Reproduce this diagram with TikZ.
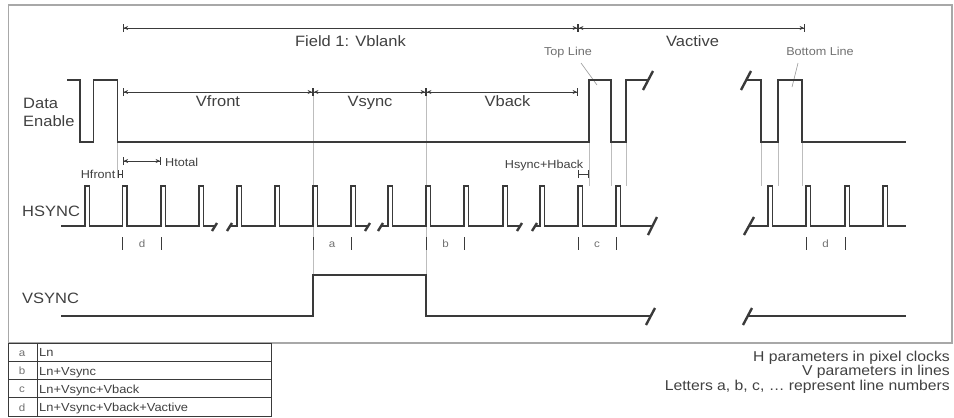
\documentclass[tikz,border=0pt]{standalone}
\usepackage{fontspec}
\setmainfont[FakeStretch=1.1]{Liberation Sans}
\usetikzlibrary{arrows.meta}
\definecolor{sigc}{HTML}{3A3A3A}
\definecolor{guidec}{HTML}{BDBDBD}
\definecolor{framec}{HTML}{A8A8A8}
\definecolor{textc}{HTML}{404040}
\definecolor{softc}{HTML}{707070}
\begin{document}
\begin{tikzpicture}[x=1pt,y=-1pt,
  sig/.style={line width=1.3pt,draw=sigc,line join=miter},
  guide/.style={line width=0.5pt,draw=guidec},
  leader/.style={line width=0.6pt,draw=guidec!80!black},
  brk/.style={line width=2.4pt,draw=sigc},
  tickmark/.style={line width=1pt,draw=sigc},
  dimline/.style={line width=0.9pt,draw=sigc,
     {Bar[width=8pt,line width=0.9pt]Stealth[length=4.5pt,width=4pt]}-{Stealth[length=4.5pt,width=4pt]Bar[width=8pt,line width=0.9pt]}},
  dimbar/.style={line width=0.9pt,draw=sigc,{Bar[width=8pt,line width=0.9pt]}-{Bar[width=8pt,line width=0.9pt]}},
  big/.style={font=\fontsize{15}{15}\selectfont,text=textc,inner sep=0pt,anchor=base},
  note/.style={font=\fontsize{14.3}{14.3}\selectfont,text=textc,inner sep=0pt,anchor=base east},
  small/.style={font=\fontsize{11.5}{11.5}\selectfont,text=textc,inner sep=0pt,anchor=base},
  faint/.style={font=\fontsize{11.5}{11.5}\selectfont,text=softc,inner sep=0pt,anchor=base},
  letter/.style={font=\fontsize{10.5}{10.5}\selectfont,text=softc,inner sep=0pt,anchor=base},
  cell/.style={font=\fontsize{11.7}{11.7}\selectfont,text=textc,inner sep=0pt,anchor=base west},
  tbl/.style={line width=0.9pt,draw=sigc},
]
\useasboundingbox (0,0) rectangle (954,418);
% frame
\draw[draw=framec,line width=1.8pt] (8.5,5) rectangle (952,343);

% guide lines
\draw[guide] (117.5,142) -- (117.5,178);
\draw[guide] (313,92) -- (313,275);
\draw[guide] (426,92) -- (426,275);
\foreach \gx in {589,611,626,761,778,802}{\draw[guide] (\gx,142) -- (\gx,186);}

% dimension lines
\coordinate (f0) at (122.7,28); \coordinate (f1) at (578,28); \coordinate (f2) at (805,28);
\coordinate (v0) at (122.7,92); \coordinate (v1) at (313,92); \coordinate (v2) at (426,92); \coordinate (v3) at (578,92);
\draw[dimline] (f0) -- (f1);
\draw[dimline] (f1) -- (f2);
\draw[dimline] (v0) -- (v1);
\draw[dimline] (v1) -- (v2);
\draw[dimline] (v2) -- (v3);
\coordinate (ht0) at (122.7,161); \coordinate (ht1) at (161,161);
\draw[dimline] (ht0) -- (ht1);
\coordinate (hf0) at (117.5,174); \coordinate (hf1) at (122.7,174);
\draw[dimbar] (hf0) -- (hf1);
\coordinate (hs0) at (578,174); \coordinate (hs1) at (589,174);
\draw[dimbar] (hs0) -- (hs1);

% labels
\node[big] (field) at (350.5,46.5) {Field 1: Vblank};
\node[big] (vactive) at (692.5,46) {Vactive};
\node[big] (vfront) at (218,106.5) {Vfront};
\node[big] (vsyncdim) at (370,106.5) {Vsync};
\node[big] (vback) at (507.5,106.5) {Vback};
\node[big,anchor=base west] (data) at (23,108) {Data};
\node[big,anchor=base west] (enable) at (23,126.5) {Enable};
\node[big,anchor=base west] (hsynclbl) at (22,216) {HSYNC};
\node[big,anchor=base west] (vsynclbl) at (22,303) {VSYNC};
\node[faint] (topline) at (568,55) {Top Line};
\node[faint] (bottomline) at (820,55) {Bottom Line};
\node[small,anchor=base west] (htotal) at (165,166.5) {Htotal};
\node[small,anchor=base east] (hfront) at (115.5,178) {Hfront};
\node[small,anchor=base east] (hsb) at (583.5,168.5) {Hsync+Hback};

% leaders
\coordinate (tl0) at (581,63); \coordinate (tl1) at (597,85);
\draw[leader] (tl0) -- (tl1);
\coordinate (bl0) at (798,63); \coordinate (bl1) at (792,87);
\draw[leader] (bl0) -- (bl1);

% Data Enable
\draw[sig] (67,80) -- (80,80) -- (80,142) -- (93.5,142) -- (93.5,80) -- (117.5,80) -- (117.5,142)
  -- (589,142) -- (589,80) -- (611,80) -- (611,142) -- (626,142) -- (626,80) -- (648,80);
\draw[sig] (746,80) -- (761,80) -- (761,142) -- (778,142) -- (778,80) -- (802,80) -- (802,142) -- (906,142);
\draw[brk] (643,90) -- (653,71);
\draw[brk] (741,90) -- (751,71);

% HSYNC
\draw[sig] (61,226) foreach \p in {85,122.5,161,199}{ -- (\p,226) -- (\p,186) -- ({\p+4.5},186) -- ({\p+4.5},226)} -- (215,226);
\draw[sig] (230,226) foreach \p in {237,275,313,351}{ -- (\p,226) -- (\p,186) -- ({\p+4.5},186) -- ({\p+4.5},226)} -- (368,226);
\draw[sig] (381,226) foreach \p in {388,426,464,503}{ -- (\p,226) -- (\p,186) -- ({\p+4.5},186) -- ({\p+4.5},226)} -- (520,226);
\draw[sig] (535,226) foreach \p in {540,578,616}{ -- (\p,226) -- (\p,186) -- ({\p+4.5},186) -- ({\p+4.5},226)} -- (652.5,226);
\draw[sig] (749,226) foreach \p in {768,806,845,883}{ -- (\p,226) -- (\p,186) -- ({\p+4.5},186) -- ({\p+4.5},226)} -- (906,226);
\foreach \sx in {212,227,365,378,517,532}{\draw[brk] (\sx,231) -- ({\sx+5},223);}
\draw[brk] (648,235) -- (657,217);
\draw[brk] (744,235) -- (754,217);

% line-number ticks
\foreach \tx in {122.5,161,313,351,426,464,578,616,806,845}{\draw[tickmark] (\tx,237) -- (\tx,250);}
\node[letter] (la) at (332,247) {a};
\node[letter] (lb) at (445.5,247) {b};
\node[letter] (lc) at (597,247) {c};
\node[letter] (ld) at (142,247) {d};
\node[letter] (ld2) at (825.5,247) {d};

% VSYNC
\draw[sig] (61,316) -- (313,316) -- (313,275) -- (426,275) -- (426,316) -- (650.8,316);
\draw[sig] (747.8,316) -- (906,316);
\draw[brk] (646,325) -- (655,308);
\draw[brk] (743,325) -- (752,308);

% table
\draw[tbl] (8,343) rectangle (271,416);
\draw[tbl] (8,361.25) -- (271,361.25);
\draw[tbl] (8,379.5) -- (271,379.5);
\draw[tbl] (8,397.75) -- (271,397.75);
\draw[tbl] (37.7,343) -- (37.7,416);
\node[letter] (ta) at (22,356) {a};
\node[letter] (tb) at (22,374.5) {b};
\node[letter] (tc) at (22,392.5) {c};
\node[letter] (td) at (22,411) {d};
\node[cell] (tta) at (39,356.5) {Ln};
\node[cell] (ttb) at (39,375) {Ln+Vsync};
\node[cell] (ttc) at (39,393) {Ln+Vsync+Vback};
\node[cell] (ttd) at (39,411.5) {Ln+Vsync+Vback+Vactive};

% notes
\node[note] (n1) at (950,361) {H parameters in pixel clocks};
\node[note] (n2) at (950,375.5) {V parameters in lines};
\node[note] (n3) at (950,390) {Letters a, b, c, … represent line numbers};
\end{tikzpicture}
\end{document}
